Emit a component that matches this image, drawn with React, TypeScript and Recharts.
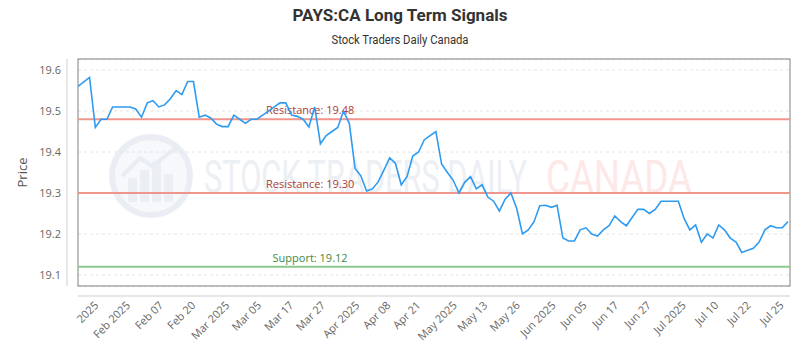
import React from 'react';
import * as R from 'recharts';
import { LineChart, Line, XAxis, YAxis, CartesianGrid, ReferenceLine } from 'recharts';

// ---- data ----
const prices: number[] = [
  19.56, 19.571, 19.582, 19.46, 19.48, 19.48, 19.51, 19.51, 19.51, 19.51,
  19.505, 19.485, 19.52, 19.525, 19.51, 19.515, 19.53, 19.55, 19.54, 19.572,
  19.572, 19.485, 19.49, 19.483, 19.468, 19.462, 19.462, 19.49, 19.48, 19.47,
  19.48, 19.48, 19.49, 19.5, 19.51, 19.52, 19.52, 19.49, 19.487, 19.48,
  19.461, 19.51, 19.42, 19.44, 19.45, 19.46, 19.5, 19.47, 19.36, 19.342,
  19.305, 19.31, 19.327, 19.356, 19.386, 19.372, 19.32, 19.34, 19.39, 19.4,
  19.43, 19.44, 19.45, 19.37, 19.35, 19.331, 19.3, 19.326, 19.34, 19.31,
  19.32, 19.29, 19.28, 19.256, 19.285, 19.3, 19.262, 19.2, 19.21, 19.23,
  19.269, 19.27, 19.265, 19.27, 19.19, 19.183, 19.183, 19.21, 19.215, 19.2,
  19.195, 19.21, 19.22, 19.244, 19.23, 19.22, 19.24, 19.26, 19.26, 19.25,
  19.26, 19.28, 19.28, 19.28, 19.28, 19.238, 19.21, 19.222, 19.18, 19.2,
  19.19, 19.222, 19.21, 19.19, 19.18, 19.155, 19.16, 19.165, 19.18, 19.21,
  19.22, 19.215, 19.215, 19.23,
];

const tickPositions: number[] = [
  3.5, 9.0, 14.7, 20.3, 26.2, 31.7, 37.3, 42.8, 48.7, 54.1, 59.3,
  65.6, 70.9, 76.5, 82.7, 88.1, 93.6, 99.2, 105.3, 110.9, 116.5, 122.2,
];
const tickLabels: string[] = [
  '2025', 'Feb 2025', 'Feb 07', 'Feb 20', 'Mar 2025', 'Mar 05', 'Mar 17', 'Mar 27',
  'Apr 2025', 'Apr 08', 'Apr 21', 'May 2025', 'May 13', 'May 26', 'Jun 2025',
  'Jun 05', 'Jun 17', 'Jun 27', 'Jul 2025', 'Jul 10', 'Jul 22', 'Jul 25',
];

const yTicks: number[] = [19.1, 19.2, 19.3, 19.4, 19.5, 19.6];
const yDomain: number[] = [19.073, 19.627];
const xDomainEnd = 123.35;

const levelValues: number[] = [19.48, 19.3, 19.12];
const levelNames: string[] = ['Resistance', 'Resistance', 'Support'];

const title = 'PAYS:CA Long Term Signals';
const subtitle = 'Stock Traders Daily Canada';

const data = prices.map((v, i) => ({ i, v }));

// ---- layout ----
const W = 800;
const H = 350;
const MARGIN = { top: 59, right: 10, bottom: 14, left: 0 };
const Y_AXIS_W = 78;
const X_AXIS_H = 50;
const FONT = "'Open Sans', 'Noto Sans', sans-serif";

function useArea() {
  const hook = (R as any).usePlotArea;
  const pa = hook ? hook() : null;
  if (pa && pa.width) return pa;
  return {
    x: MARGIN.left + Y_AXIS_W,
    y: MARGIN.top,
    width: W - MARGIN.left - MARGIN.right - Y_AXIS_W,
    height: H - MARGIN.top - MARGIN.bottom - X_AXIS_H,
  };
}

function Frame() {
  const { x, y, width, height } = useArea();
  return (
    <g>
      <rect x={x} y={y} width={width} height={height} fill="none" stroke="#808080" strokeWidth={1} />
      <line x1={x - 11} x2={x - 11} y1={y} y2={y + height} stroke="#cfcfcf" strokeWidth={1} />
      <line x1={x} x2={x + width} y1={y + height + 10} y2={y + height + 10} stroke="#cfcfcf" strokeWidth={1} />
      <text
        x={22}
        y={y + height / 2}
        transform={`rotate(-90, 22, ${y + height / 2})`}
        textAnchor="middle"
        dominantBaseline="central"
        fontSize={13}
        fontFamily={FONT}
        fill="#555"
      >
        Price
      </text>
    </g>
  );
}

const XTick = (props: any) => {
  const { x, y, payload } = props;
  const idx = tickPositions.indexOf(payload.value);
  const label = idx >= 0 ? tickLabels[idx] : '';
  return (
    <g transform={`translate(${x + 1},${y + 20})`}>
      <text x={0} y={0} textAnchor="end" transform="rotate(-45)" fontSize={11} fontFamily={FONT} fill="#666">
        {label}
      </text>
    </g>
  );
};

const makeLabel = (text: string, color: string) => (props: any) => {
  const vb = props.viewBox || {};
  const cx = vb.x + vb.width * 0.326;
  return (
    <text x={cx} y={vb.y - 5} textAnchor="middle" fontSize={11} fontFamily={FONT} fill={color}>
      {text}
    </text>
  );
};

function Background() {
  return (
    <svg width={W} height={H} style={{ position: 'absolute', left: 0, top: 0 }}>
      <text x={400} y={21} textAnchor="middle" fontSize={17} fontWeight="bold" fontFamily="Roboto, sans-serif"
        fill="#333" textLength={215} lengthAdjust="spacingAndGlyphs">
        {title}
      </text>
      <text x={400} y={44} textAnchor="middle" fontSize={12} fontFamily="Roboto, sans-serif" fill="#333"
        textLength={137} lengthAdjust="spacingAndGlyphs">
        {subtitle}
      </text>
      {/* watermark */}
      <g opacity={0.5}>
        <circle cx={151} cy={176} r={39} fill="#eef2f8" stroke="#d6dfeb" strokeWidth={6} />
        <rect x={128} y={178} width={9} height={24} fill="#d9e0ea" />
        <rect x={140} y={170} width={9} height={32} fill="#d9e0ea" />
        <rect x={152} y={162} width={9} height={40} fill="#d9e0ea" />
        <rect x={164} y={174} width={9} height={28} fill="#d9e0ea" />
        <polyline points="122,176 140,158 152,166 176,148" fill="none" stroke="#d3dce8" strokeWidth={4} />
      </g>
      <text y={193} fontSize={46} fontFamily="Roboto, sans-serif">
        <tspan x={204} fill="#eceff4" textLength={323} lengthAdjust="spacingAndGlyphs">STOCK TRADERS DAILY</tspan>
        <tspan x={546} fill="#fde8e8" textLength={146} lengthAdjust="spacingAndGlyphs">CANADA</tspan>
      </text>
    </svg>
  );
}

export default function App() {
  return (
    <div style={{ position: 'absolute', left: 0, top: 0, width: W, height: H, background: '#fff' }}>
      <Background />
      <div style={{ position: 'absolute', left: 0, top: 0 }}>
        <LineChart width={W} height={H} data={data} margin={MARGIN}>
          <CartesianGrid horizontal vertical={false} stroke="#e4e4e4" strokeDasharray="3 3" />
          <XAxis
            dataKey="i"
            type="number"
            domain={[0, xDomainEnd]}
            ticks={tickPositions}
            interval={0}
            height={X_AXIS_H}
            axisLine={false}
            tickLine={false}
            tickSize={0}
            tickMargin={0}
            tick={<XTick />}
            allowDataOverflow
          />
          <YAxis
            type="number"
            domain={yDomain}
            ticks={yTicks}
            width={Y_AXIS_W}
            axisLine={false}
            tickLine={false}
            tickSize={0}
            tickMargin={17}
            tickFormatter={(v: number) => v.toFixed(1)}
            tick={{ fontSize: 11, fill: '#666', fontFamily: FONT }}
            allowDataOverflow
          />
          {levelValues.map((lv, k) => {
            const support = levelNames[k] === 'Support';
            return (
              <ReferenceLine
                key={k}
                y={lv}
                stroke={support ? '#8cc98c' : '#f0958c'}
                strokeWidth={2}
                label={makeLabel(`${levelNames[k]}: ${lv.toFixed(2)}`, support ? '#3f8a3f' : '#b03a30')}
              />
            );
          })}
          <Line
            type="linear"
            dataKey="v"
            stroke="#2e9bf0"
            strokeWidth={1.6}
            dot={false}
            activeDot={false}
            isAnimationActive={false}
          />
          <Frame />
        </LineChart>
      </div>
    </div>
  );
}
